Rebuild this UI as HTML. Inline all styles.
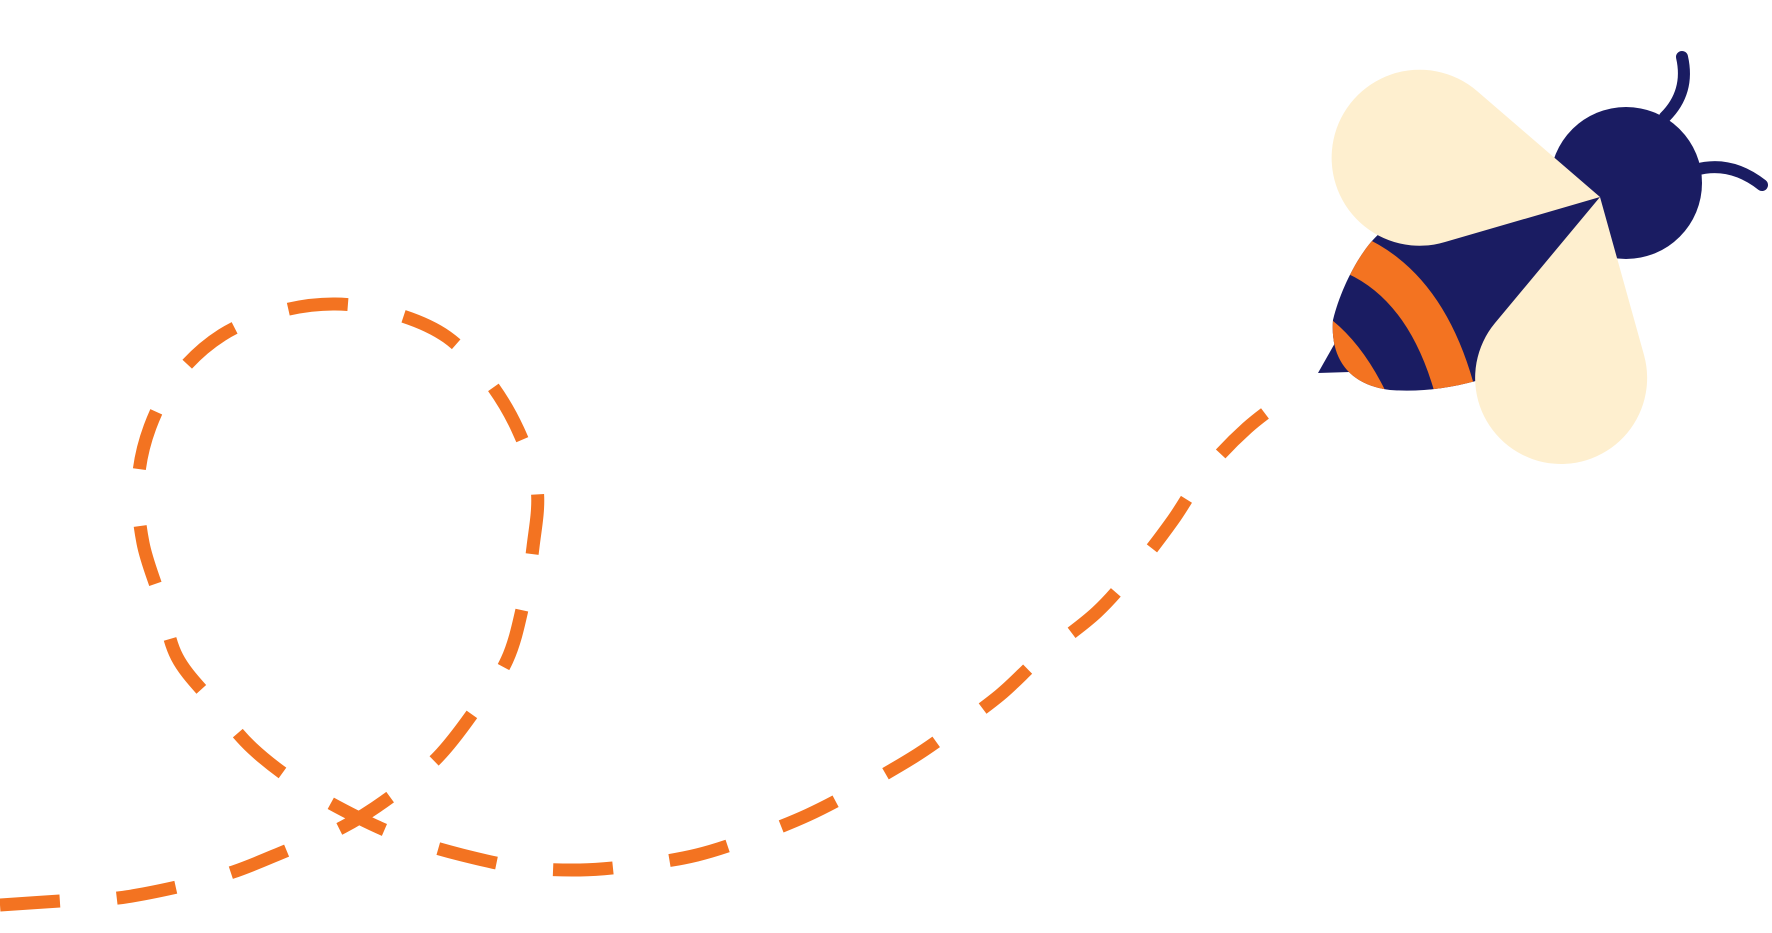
<!DOCTYPE html>
<html><head><meta charset="utf-8"><style>html,body{margin:0;padding:0;background:#fff;}svg{display:block}</style></head>
<body>
<svg width="1772" height="933" viewBox="0 0 1772 933" xmlns="http://www.w3.org/2000/svg">
<defs>
<clipPath id="bc"><path d="M1600,197 L1380,233 C1360,250 1340,290 1333,320 C1330,360 1350,385 1390,390 C1430,393 1470,385 1510,370 Z"/></clipPath>
</defs>
<path id="trail" fill="none" stroke="#f37321" stroke-width="13" stroke-dasharray="60 57" d=""/>
<polygon points="1318,373 1335,343 1350,372" fill="#1a1c62"/>
<path d="M1600,197 L1380,233 C1360,250 1340,290 1333,320 C1330,360 1350,385 1390,390 C1430,393 1470,385 1510,370 Z" fill="#1a1c62"/>
<g clip-path="url(#bc)" fill="none" stroke="#f37321" stroke-width="40">
<path d="M1355,255 Q1428,288 1456,395"/>
<path d="M1316,333 Q1347,356 1370,405"/>
</g>
<path d="M1665,117 Q1690,92 1682,57" fill="none" stroke="#1a1c62" stroke-width="12" stroke-linecap="round"/>
<path d="M1695,170 Q1730,160 1762,185" fill="none" stroke="#1a1c62" stroke-width="12" stroke-linecap="round"/>
<circle cx="1626" cy="183" r="76" fill="#1a1c62"/>
<path d="M1600,197 L1477,91 A88,88 0 1 0 1445,242 Z" fill="#feefcf"/>
<path d="M1600,197 L1644,355 A86,86 0 1 1 1495,323 Z" fill="#feefcf"/>
</svg>
<script>
(function(){
var p=[[0,905],[60,901],[118,898],[177,887],[233,872],[288,850],[343,827],[393,795],[438,757],[475,710],[507,660],[523,605],[533,547],[537,488],[518,430],[488,380],[447,337],[393,313],[335,304],[277,312],[222,335],[178,375],[150,427],[138,483],[143,543],[160,598],[177,657],[215,705],[252,748],[300,785],[357,817],[405,838],[462,855],[520,867],[580,870],[638,865],[697,855],[753,837],[808,815],[860,788],[912,758],[950,732],[1000,695],[1043,655],[1097,612],[1137,567],[1173,520],[1205,472],[1247,428],[1293,393]];
var d="M"+p[0][0]+","+p[0][1];
for(var i=0;i<p.length-1;i++){
var a=p[Math.max(i-1,0)],b=p[i],c=p[i+1],e=p[Math.min(i+2,p.length-1)];
var c1=[b[0]+(c[0]-a[0])/6,b[1]+(c[1]-a[1])/6],c2=[c[0]-(e[0]-b[0])/6,c[1]-(e[1]-b[1])/6];
d+=" C"+c1[0].toFixed(1)+","+c1[1].toFixed(1)+" "+c2[0].toFixed(1)+","+c2[1].toFixed(1)+" "+c[0]+","+c[1];
}
document.getElementById("trail").setAttribute("d",d);
})();
</script>
</body></html>
